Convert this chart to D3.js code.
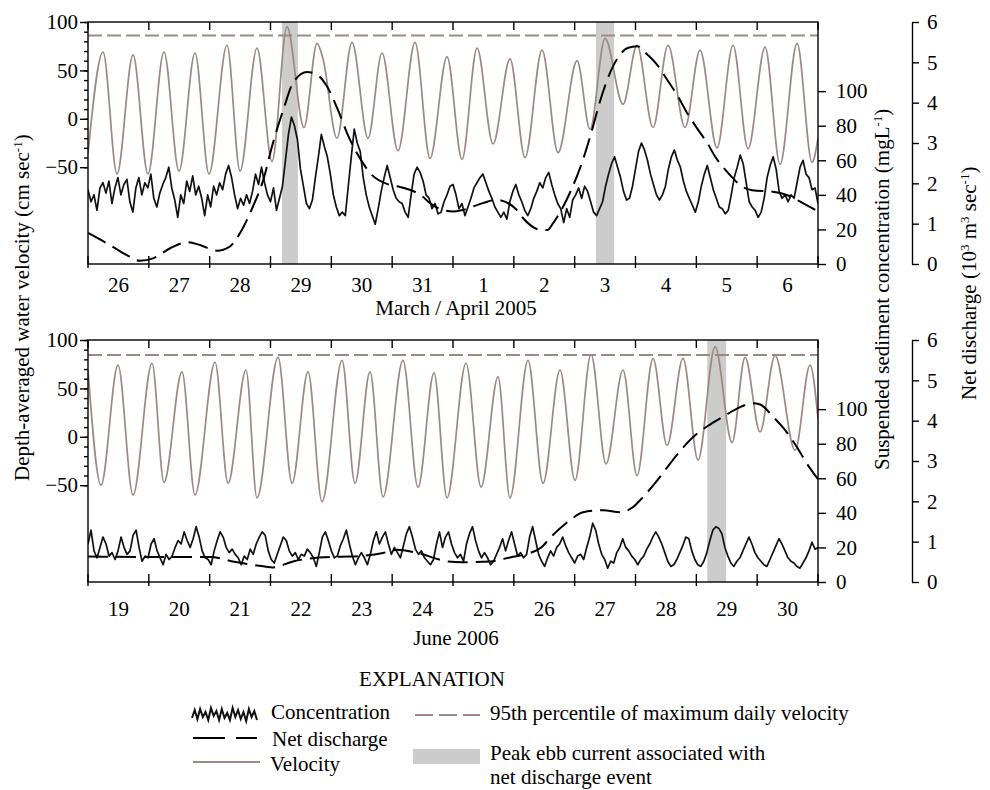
<!doctype html>
<html>
<head>
<meta charset="utf-8">
<script src="https://cdnjs.cloudflare.com/ajax/libs/d3/7.8.5/d3.min.js"></script>
<style>
  body { margin: 0; background: white; }
  svg { font-family: "Liberation Serif", "Times New Roman", serif; }
</style>
</head>
<body>
<svg width="990" height="790"></svg>
<script>
// ---- data (days counted from the first tick of each panel) ----
const topDays = ["26", "27", "28", "29", "30", "31", "1", "2", "3", "4", "5", "6"];
const bottomDays = ["19", "20", "21", "22", "23", "24", "25", "26", "27", "28", "29", "30"];

// depth-averaged velocity, tidal highs and lows [day, cm/s]
const topVelocity = [[0,-36],[0.247,69],[0.477,-57],[0.740,66],[0.986,-57],[1.249,69],[1.496,-54],[1.759,68],
  [1.989,-57],[2.285,76],[2.499,-54],[2.778,73],[3.025,-44],[3.271,95],[3.551,-9],[3.765,78],[3.863,62],
  [4.093,-20],[4.340,79],[4.603,-20],[4.833,68],[5.096,-33],[5.376,79],[5.622,-41],[5.902,64],[6.148,-42],
  [6.395,73],[6.658,-26],[6.937,62],[7.184,-40],[7.464,71],[7.727,-35],[8.039,60],[8.253,-11],[8.499,83],
  [8.795,15],[9.025,76],[9.288,-9],[9.535,76],[9.814,-9],[10.061,71],[10.340,-30],[10.603,76],[10.850,-31],
  [11.130,74],[11.376,-47],[11.656,78],[11.902,-45],[12.0,-20]];
const bottomVelocity = [[0,69],[0.214,-50],[0.493,74],[0.740,-60],[1.052,76],[1.249,-47],[1.545,67],[1.759,-60],
  [2.088,77],[2.302,-48],[2.597,69],[2.778,-63],[3.124,82],[3.354,-48],[3.617,67],[3.847,-67],[4.176,79],
  [4.389,-48],[4.636,67],[4.850,-62],[5.178,79],[5.425,-52],[5.688,66],[5.902,-63],[6.214,76],[6.461,-52],
  [6.740,62],[6.937,-63],[7.233,79],[7.480,-48],[7.759,69],[8.006,-45],[8.269,85],[8.516,-28],[8.795,69],
  [9.025,-40],[9.288,81],[9.519,-9],[9.781,81],[10.028,-24],[10.308,93],[10.587,-6],[10.801,82],[11.047,5],
  [11.294,84],[11.623,-14],[11.869,74],[12.0,19]];

// net discharge [day, 10^3 m3/s]
const topDischarge = [[0,0.77],[0.36,0.47],[0.64,0.22],[0.85,0.08],[1.07,0.14],[1.35,0.39],[1.63,0.54],
  [1.84,0.47],[2.12,0.33],[2.33,0.43],[2.50,0.77],[2.71,1.42],[2.88,2.08],[3.04,3.0],[3.21,3.82],[3.37,4.49],
  [3.60,4.76],[3.76,4.7],[3.93,4.4],[4.10,3.85],[4.26,3.24],[4.52,2.5],[4.64,2.25],[4.96,1.96],[5.13,1.91],
  [5.51,1.66],[5.62,1.51],[6.00,1.3],[6.16,1.34],[6.49,1.51],[6.72,1.59],[7.05,1.34],[7.15,1.14],[7.43,0.85],
  [7.55,0.84],[7.64,1.0],[7.81,1.42],[7.92,1.76],[8.14,2.6],[8.30,3.4],[8.40,3.95],[8.63,4.9],[8.88,5.36],
  [9.03,5.4],[9.19,5.2],[9.35,4.95],[9.52,4.57],[9.70,4.15],[9.85,3.74],[10.01,3.37],[10.18,3.0],[10.31,2.66],
  [10.44,2.4],[10.60,2.13],[10.75,1.92],[10.92,1.83],[11.26,1.79],[11.49,1.71],[11.70,1.55],[12.0,1.3]];
const bottomDischarge = [[0,0.63],[1.02,0.62],[2.01,0.62],[2.38,0.51],[2.88,0.39],[3.04,0.36],[3.37,0.51],
  [3.98,0.62],[4.31,0.63],[4.85,0.72],[5.08,0.8],[5.41,0.72],[5.92,0.51],[6.15,0.49],[6.61,0.51],[6.94,0.61],
  [7.27,0.72],[7.46,0.87],[7.60,1.1],[7.92,1.53],[8.14,1.73],[8.47,1.78],[8.75,1.73],[8.96,1.86],[9.12,2.1],
  [9.40,2.6],[9.52,2.84],[9.78,3.33],[9.93,3.57],[10.23,3.91],[10.44,4.1],[10.67,4.3],[10.93,4.43],
  [11.05,4.4],[11.26,4.1],[11.43,3.82],[11.66,3.33],[11.82,2.93],[12.0,2.55]];

// suspended sediment concentration (mg/L), evenly spaced over the 12 days
const topConcentration = [43,36,40,31,44,47,41,48,35,44,50,40,46,49,36,30,44,50,40,47,44,52,38,33,41,46,50,56,
  44,37,27,40,35,48,42,51,40,45,38,28,40,33,45,40,47,43,52,57,50,40,32,38,34,40,35,42,52,46,56,47,40,36,44,31,
  38,45,60,75,85,80,72,55,45,35,32,37,50,62,75,68,62,52,40,33,28,30,28,45,62,78,70,65,50,40,33,28,23,32,42,50,
  57,50,43,38,36,35,30,27,40,52,56,53,48,40,38,32,35,29,30,36,40,45,46,40,32,35,28,33,38,44,47,50,52,47,42,38,
  33,30,27,30,26,36,42,46,40,36,31,28,32,38,42,47,44,50,53,46,40,35,32,24,32,27,37,40,44,38,45,42,36,30,28,32,
  36,45,52,58,62,56,50,42,37,38,45,55,65,70,66,60,52,46,40,37,40,45,55,62,66,60,56,48,42,38,34,30,36,45,52,57,
  50,43,38,33,32,29,31,40,50,56,63,58,47,36,33,31,27,30,38,50,57,62,55,42,38,40,36,40,38,47,56,60,52,50,43,44,35];
const bottomConcentration = [22,30,18,14,20,26,22,15,17,13,18,26,20,16,18,27,30,20,12,15,14,22,25,18,14,10,16,
  13,15,20,24,22,29,24,20,25,32,26,18,14,13,10,18,24,29,26,20,17,19,16,14,10,15,13,19,16,22,26,29,27,18,13,11,
  16,21,26,24,18,15,17,13,16,15,19,17,14,9,17,26,29,24,18,14,15,21,25,30,22,15,10,14,17,14,10,16,24,29,22,26,
  29,22,16,20,17,14,21,28,32,26,19,16,18,14,12,10,13,22,29,20,26,29,22,17,14,16,12,22,28,32,24,18,14,17,14,10,
  12,16,20,25,18,24,29,22,15,17,14,16,26,32,24,16,12,9,14,18,15,20,22,26,21,17,14,11,15,16,13,20,26,34,30,22,
  16,13,8,12,11,17,20,25,20,18,15,13,10,13,15,19,22,26,29,26,22,17,12,9,10,13,17,21,26,25,18,13,10,9,12,17,24,
  30,32,31,28,20,15,11,9,12,14,18,22,26,22,17,14,12,10,9,13,17,21,25,22,18,14,12,11,9,8,11,14,18,23,19,20];

// shaded peak ebb currents [start day, end day]
const topBands = [[3.19, 3.45], [8.35, 8.65]];
const bottomBands = [[10.18, 10.49]];
const topPercentile95 = 86;
const bottomPercentile95 = 84.5;

const velTicksMajor = [-50, 0, 50, 100];
const velTicksMinor = d3.range(-50, 101, 10);
const concTicks = [0, 20, 40, 60, 80, 100];
const dischargeTicks = [0, 1, 2, 3, 4, 5, 6];

// ---- drawing ----
const svg = d3.select('svg');
const left = 88, right = 818, dischargeX = 912;
const velColor = '#9d8981';
const fontSize = 21;

const panels = [
  {top: 22, bottom: 264, days: topDays, vel: topVelocity, q: topDischarge, conc: topConcentration,
   bands: topBands, p95: topPercentile95, label: 'March / April 2005', dayY: 292, labelY: 315},
  {top: 340, bottom: 582, days: bottomDays, vel: bottomVelocity, q: bottomDischarge, conc: bottomConcentration,
   bands: bottomBands, p95: bottomPercentile95, label: 'June 2006', dayY: 616, labelY: 645}
];

panels.forEach((p, k) => {
  const x = d3.scaleLinear().domain([0, 12]).range([left, right]);
  const yVel = d3.scaleLinear().domain([-150, 100]).range([p.bottom, p.top]);
  const yConc = d3.scaleLinear().domain([0, 140]).range([p.bottom, p.top]);
  const yQ = d3.scaleLinear().domain([0, 6]).range([p.bottom, p.top]);

  svg.append('clipPath').attr('id', 'clip' + k)
    .append('rect').attr('x', left).attr('y', p.top)
    .attr('width', right - left).attr('height', p.bottom - p.top);

  const g = svg.append('g').attr('clip-path', 'url(#clip' + k + ')');

  g.selectAll('rect.band').data(p.bands).enter().append('rect')
    .attr('class', 'band')
    .attr('x', d => x(d[0])).attr('width', d => x(d[1]) - x(d[0]))
    .attr('y', p.top).attr('height', p.bottom - p.top)
    .style('fill', '#cccccc');

  g.append('line')
    .attr('x1', x(0)).attr('x2', x(12))
    .attr('y1', yVel(p.p95)).attr('y2', yVel(p.p95))
    .style('stroke', velColor).style('stroke-width', 2).style('stroke-dasharray', '14,5');

  g.append('path').datum(p.vel)
    .attr('d', d3.line().x(d => x(d[0])).y(d => yVel(d[1])).curve(d3.curveMonotoneX))
    .style('fill', 'none').style('stroke', velColor).style('stroke-width', 1.7);

  const step = 12 / (p.conc.length - 1);
  g.append('path').datum(p.conc)
    .attr('d', d3.line().x((d, i) => x(i * step)).y(d => yConc(d)))
    .style('fill', 'none').style('stroke', '#111').style('stroke-width', 1.7)
    .style('stroke-linejoin', 'round');

  g.append('path').datum(p.q)
    .attr('d', d3.line().x(d => x(d[0])).y(d => yQ(d[1])).curve(d3.curveMonotoneX))
    .style('fill', 'none').style('stroke', '#000').style('stroke-width', 2)
    .style('stroke-dasharray', '20,8');

  // frame
  svg.append('rect')
    .attr('x', left).attr('y', p.top).attr('width', right - left).attr('height', p.bottom - p.top)
    .style('fill', 'none').style('stroke', '#000').style('stroke-width', 1.4);

  // day ticks, top and bottom
  const dayTicks = d3.range(0, 13);
  svg.selectAll(null).data(dayTicks).enter().append('line')
    .attr('x1', d => x(d)).attr('x2', d => x(d))
    .attr('y1', p.bottom + 4).attr('y2', p.bottom - 8)
    .style('stroke', '#000').style('stroke-width', 1.4);
  svg.selectAll(null).data(dayTicks).enter().append('line')
    .attr('x1', d => x(d)).attr('x2', d => x(d))
    .attr('y1', p.top).attr('y2', p.top + 8)
    .style('stroke', '#000').style('stroke-width', 1.4);
  svg.selectAll(null).data(p.days).enter().append('text')
    .attr('x', (d, i) => x(i + 0.5)).attr('y', p.dayY)
    .attr('text-anchor', 'middle').style('font-size', fontSize + 'px')
    .text(d => d);
  svg.append('text')
    .attr('x', 456).attr('y', p.labelY).attr('text-anchor', 'middle')
    .style('font-size', fontSize + 'px').text(p.label);

  // velocity axis
  const minor = svg.append('g').attr('transform', `translate(${left},0)`)
    .call(d3.axisLeft(yVel).tickValues(velTicksMinor).tickSize(4).tickFormat(''));
  const major = svg.append('g').attr('transform', `translate(${left},0)`)
    .call(d3.axisLeft(yVel).tickValues(velTicksMajor).tickSize(8).tickPadding(2));

  // concentration axis
  const conc = svg.append('g').attr('transform', `translate(${right},0)`)
    .call(d3.axisRight(yConc).tickValues(concTicks).tickSize(8).tickPadding(10));

  // discharge axis
  const dis = svg.append('g').attr('transform', `translate(${dischargeX},0)`)
    .call(d3.axisRight(yQ).tickValues(dischargeTicks).tickFormat(d3.format('d'))
      .tickSize(7).tickSizeOuter(0).tickPadding(8));

  [minor, major, conc].forEach(a => a.select('.domain').remove());
  [minor, major, conc, dis].forEach(a => {
    a.attr('font-family', null).attr('font-size', null);
    a.selectAll('line, path').style('stroke', '#000').style('stroke-width', 1.4);
    a.selectAll('text').style('font-size', fontSize + 'px').style('fill', '#000');
  });
});

// axis titles, each starting at its lower end
const sup = (t, s) => { t.append('tspan').attr('baseline-shift', 'super').style('font-size', '13px').text(s); };

const velTitle = svg.append('text')
  .attr('transform', 'translate(29,481) rotate(-90)')
  .style('font-size', fontSize + 'px');
velTitle.append('tspan').text('Depth-averaged water velocity (cm sec');
sup(velTitle, '-1');
velTitle.append('tspan').text(')');

const concTitle = svg.append('text')
  .attr('transform', 'translate(889,470) rotate(-90)')
  .style('font-size', fontSize + 'px');
concTitle.append('tspan').text('Suspended sediment concentration (mgL');
sup(concTitle, '-1');
concTitle.append('tspan').text(')');

const qTitle = svg.append('text')
  .attr('transform', 'translate(976,400) rotate(-90)')
  .style('font-size', fontSize + 'px');
qTitle.append('tspan').text('Net discharge (10');
sup(qTitle, '3');
qTitle.append('tspan').text(' m');
sup(qTitle, '3');
qTitle.append('tspan').text(' sec');
sup(qTitle, '-1');
qTitle.append('tspan').text(')');

// ---- legend ----
const legend = svg.append('g');
legend.append('text').attr('x', 432).attr('y', 686).attr('text-anchor', 'middle')
  .style('font-size', fontSize + 'px').text('EXPLANATION');

const wiggle = [3, -5, 4, -6, 2, -3, 5, -7, 1, -4, 5, -6, 3, -2, 5, -7, 2, -5, 4, -3, 6, -6, 2, -4, 5];
const wx = d3.scaleLinear().domain([0, wiggle.length - 1]).range([192, 257]);
legend.append('path').datum(wiggle)
  .attr('d', d3.line().x((d, i) => wx(i)).y(d => 715 + d))
  .style('fill', 'none').style('stroke', '#111').style('stroke-width', 2);
legend.append('text').attr('x', 271).attr('y', 719).style('font-size', fontSize + 'px').text('Concentration');

legend.append('line').attr('x1', 193).attr('x2', 257).attr('y1', 738).attr('y2', 738)
  .style('stroke', '#000').style('stroke-width', 2).style('stroke-dasharray', '32,11');
legend.append('text').attr('x', 272).attr('y', 746).style('font-size', fontSize + 'px').text('Net discharge');

legend.append('line').attr('x1', 193).attr('x2', 260).attr('y1', 762).attr('y2', 762)
  .style('stroke', velColor).style('stroke-width', 2);
legend.append('text').attr('x', 270).attr('y', 771).style('font-size', fontSize + 'px').text('Velocity');

legend.append('line').attr('x1', 415).attr('x2', 480).attr('y1', 715).attr('y2', 715)
  .style('stroke', velColor).style('stroke-width', 2).style('stroke-dasharray', '18,6');
legend.append('text').attr('x', 490).attr('y', 720).style('font-size', fontSize + 'px')
  .text('95th percentile of maximum daily velocity');

legend.append('rect').attr('x', 413).attr('y', 749).attr('width', 67).attr('height', 15)
  .style('fill', '#cccccc');
legend.append('text').attr('x', 490).attr('y', 760).style('font-size', fontSize + 'px')
  .text('Peak ebb current associated with');
legend.append('text').attr('x', 490).attr('y', 784).style('font-size', fontSize + 'px')
  .text('net discharge event');
</script>
</body>
</html>
